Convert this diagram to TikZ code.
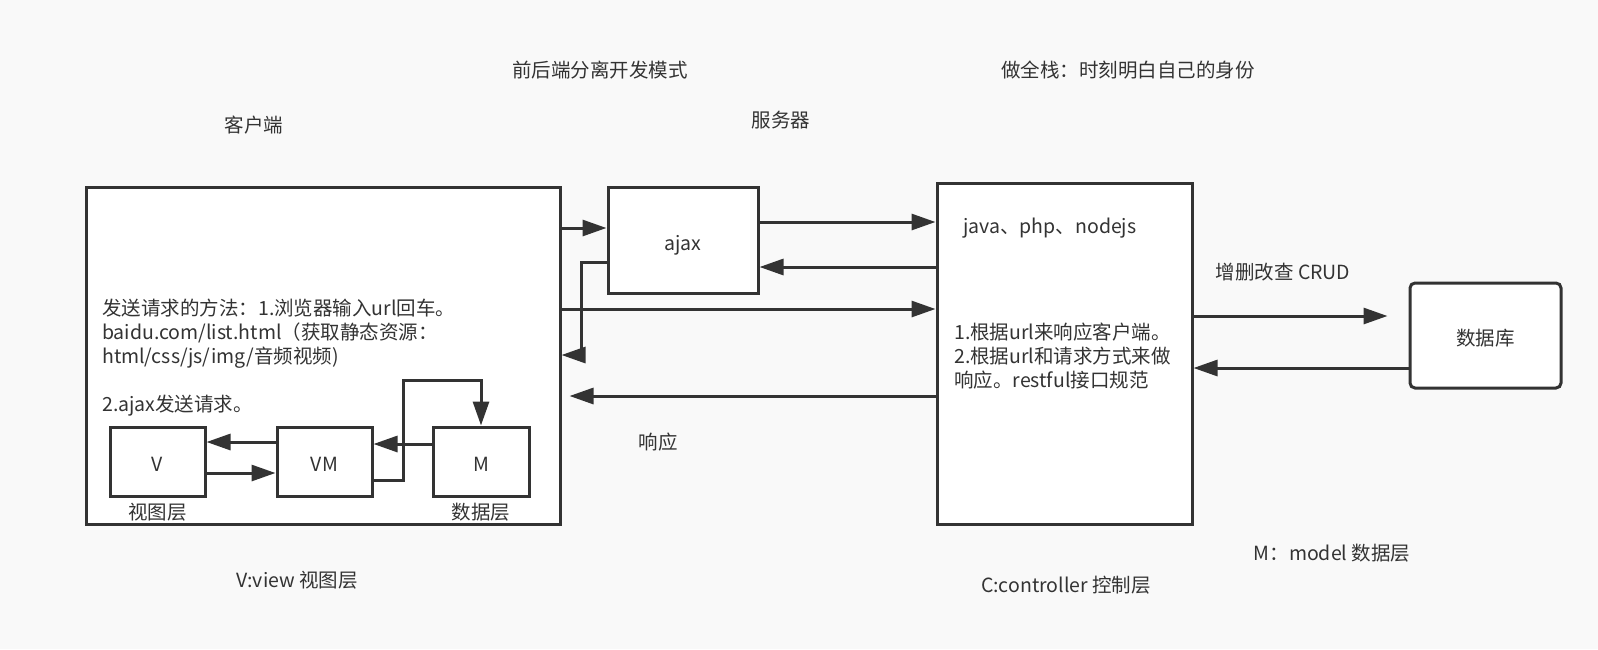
\documentclass[tikz,border=0pt]{standalone}
\usepackage{fontspec}
\setmainfont{Noto Sans CJK SC}
\usepackage{tikz}
\usetikzlibrary{arrows.meta}
\definecolor{linegray}{HTML}{333333}
\definecolor{paper}{HTML}{F9F9F9}

\begin{document}
\begin{tikzpicture}[x=1pt,y=-1pt,
    box/.style={draw=linegray, fill=white, line width=3pt, inner sep=0pt, text=linegray, text height=21pt, text depth=1pt, font=\fontsize{19.5}{24}\selectfont},
    lbl/.style={text=linegray, inner sep=0pt, font=\fontsize{19.5}{24}\selectfont},
    arr/.style={draw=linegray, line width=3pt, -{Triangle[length=24pt,width=16pt]}}]
        % background
        \fill[paper] (0,0) rectangle (1598,649);
        % boxes
        \node[box, minimum width=474pt, minimum height=337pt] (client) at (323,355.5) {};
        \node[box, minimum width=150pt, minimum height=106pt] (ajax) at (683,240) {ajax};
        \node[box, minimum width=255pt, minimum height=341pt] (server) at (1064.5,353.5) {};
        \node[box, rounded corners=5pt, minimum width=151pt, minimum height=105pt] (db) at (1485.5,335.5) {数据库};
        \node[box, minimum width=95pt, minimum height=69pt] (v) at (157.5,461.5) {V};
        \node[box, minimum width=95pt, minimum height=69pt] (vm) at (324.5,461.5) {VM};
        \node[box, minimum width=96pt, minimum height=69pt] (m) at (481,461.5) {M};
        % Add titles
        \node[lbl] (title) at (600,70) {前后端分离开发模式};
        \node[lbl] (fullstack) at (1128,70) {做全栈：时刻明白自己的身份};
        \node[lbl] (clientname) at (254,125) {客户端};
        \node[lbl] (servername) at (781,120) {服务器};
        \node[lbl, anchor=west, align=left] (howto) at (102,358) {发送请求的方法：1.浏览器输入url回车。\\baidu.com/list.html（获取静态资源：\\html/css/js/img/音频视频)\\[24pt]2.ajax发送请求。};
        \node[lbl, anchor=west] (langs) at (963,228) {java、php、nodejs};
        \node[lbl, anchor=west, align=left] (rules) at (954,356) {1.根据url来响应客户端。\\2.根据url和请求方式来做\\响应。restful接口规范};
        \node[lbl] (crud) at (1283,272) {增删改查 CRUD};
        \node[lbl] (resp) at (658,442) {响应};
        \node[lbl] (vname) at (157.5,512) {视图层};
        \node[lbl] (mname) at (481,512) {数据层};
        \node[lbl] (vview) at (297,580) {V:view 视图层};
        \node[lbl] (ctrl) at (1066,585) {C:controller 控制层};
        \node[lbl] (model) at (1332,553) {M：model 数据层};
        % client <-> ajax
        \draw[arr] (client.east |- 0,228) -- (ajax.west |- 0,228);
        \draw[arr] (ajax.west |- 0,262) -- ++(-25,0) |- (client.east |- 0,355);
        % ajax <-> server
        \draw[arr] (ajax.east |- 0,222) -- (server.west |- 0,222);
        \draw[arr] (server.west |- 0,267) -- (ajax.east |- 0,267);
        % client <-> server
        \draw[arr] (client.east |- 0,309) -- (server.west |- 0,309);
        \draw[arr] (server.west |- 0,396) -- ([xshift=8pt]client.east |- 0,396);
        % server <-> db
        \draw[arr] (server.east |- 0,316) -- ([xshift=-21pt]db.west |- 0,316);
        \draw[arr] (db.west |- 0,368) -- (server.east |- 0,368);
        % V, VM, M
        \draw[arr] (vm.west |- 0,442) -- (v.east |- 0,442);
        \draw[arr] (v.east |- 0,473) -- (vm.west |- 0,473);
        \draw[arr] (m.west |- 0,444) -- (vm.east |- 0,444);
        \draw[arr] (vm.east |- 0,480) -- ++(30,0) |- ([yshift=45pt]m.north) -- (m.north);
    \end{tikzpicture}
\end{document}
